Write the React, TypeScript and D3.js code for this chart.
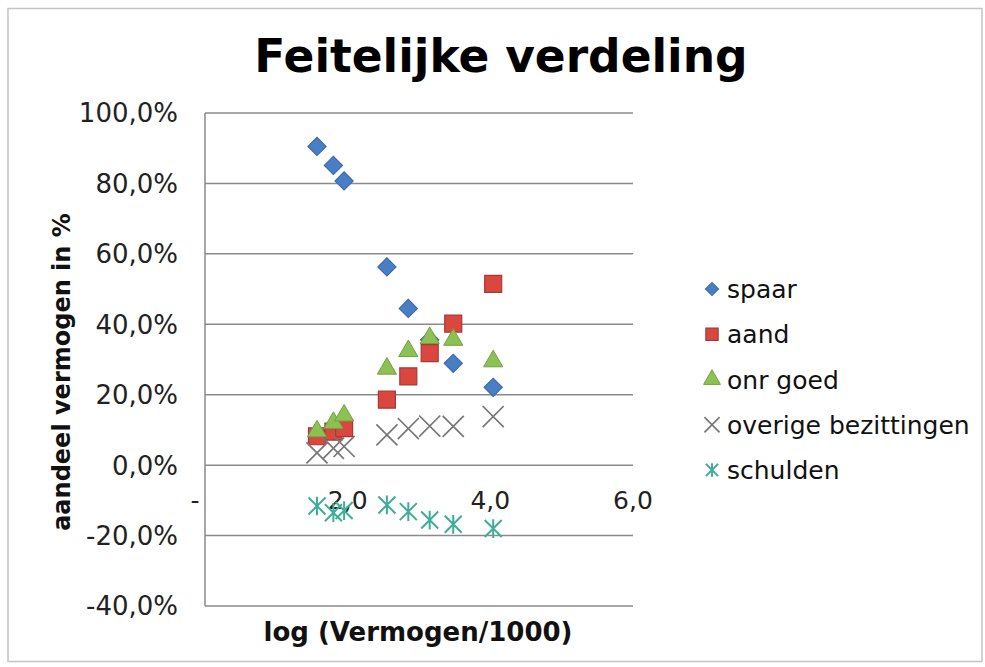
import React from "react";
import * as d3 from "d3";

const xVals = [1.57, 1.8, 1.95, 2.55, 2.85, 3.15, 3.48, 4.04];
const spaar = [90.5, 85.1, 80.7, 56.3, 44.5, 35.6, 28.9, 22.1];
const aand = [8.2, 9.5, 10.5, 18.6, 25.2, 31.8, 40.2, 51.5];
const onrGoed = [9.6, 12.0, 14.1, 27.4, 32.4, 36.1, 35.6, 29.5];
const overige = [3.5, 4.8, 5.3, 8.6, 10.4, 11.1, 11.0, 13.8];
const schulden = [-11.6, -13.5, -12.9, -11.3, -13.2, -15.6, -16.8, -18.0];

const yTicks = [100, 80, 60, 40, 20, 0, -20, -40];
const xTicks = [0, 2, 4, 6];
const seriesNames = ["spaar", "aand", "onr goed", "overige bezittingen", "schulden"];

const W = 985;
const H = 667;

const x = d3.scaleLinear().domain([0, 6]).range([205, 633]);
const y = d3.scaleLinear().domain([-40, 100]).range([606, 113]);

type Kind = "diamond" | "square" | "triangle" | "x" | "star";

function Marker({ kind, cx, cy, s }: { kind: Kind; cx: number; cy: number; s: number }) {
  if (kind === "diamond") {
    const p = d3.symbol(d3.symbolSquare, s * s)();
    return <path d={p || ""} transform={`translate(${cx},${cy}) rotate(45)`} fill="#4A7EC4" stroke="#3767AB" strokeWidth={1} />;
  }
  if (kind === "square") {
    const p = d3.symbol(d3.symbolSquare, s * s)();
    return <path d={p || ""} transform={`translate(${cx},${cy})`} fill="#D9473F" stroke="#A43A35" strokeWidth={1.2} />;
  }
  if (kind === "triangle") {
    const p = d3.symbol(d3.symbolTriangle, s * s * 0.55)();
    return <path d={p || ""} transform={`translate(${cx},${cy})`} fill="#8DC153" stroke="#74A044" strokeWidth={1} />;
  }
  if (kind === "x") {
    const p = d3.symbol(d3.symbolX, s * s * 0.9)();
    return <path d={p || ""} transform={`translate(${cx},${cy})`} fill="none" stroke="#777" strokeWidth={1.7} />;
  }
  const r = s / 2;
  const pth = d3.path();
  pth.moveTo(-r, -r);
  pth.lineTo(r, r);
  pth.moveTo(-r, r);
  pth.lineTo(r, -r);
  pth.moveTo(0, -r * 1.1);
  pth.lineTo(0, r * 1.1);
  return <path d={pth.toString()} transform={`translate(${cx},${cy})`} fill="none" stroke="#3FAE98" strokeWidth={2} />;
}

const series: { name: string; values: number[]; kind: Kind; size: number }[] = [
  { name: seriesNames[0], values: spaar, kind: "diamond", size: 13 },
  { name: seriesNames[1], values: aand, kind: "square", size: 17 },
  { name: seriesNames[2], values: onrGoed, kind: "triangle", size: 17 },
  { name: seriesNames[3], values: overige, kind: "x", size: 18 },
  { name: seriesNames[4], values: schulden, kind: "star", size: 17 },
];

const fmtY = (v: number) => `${v.toFixed(1).replace(".", ",")}%`;
const fmtX = (v: number) => (v === 0 ? "-" : v.toFixed(1).replace(".", ","));

export default function App() {
  const font = "DejaVu Sans, Verdana, sans-serif";
  const legendY = d3.scaleLinear().domain([0, 4]).range([289, 470]);
  return (
    <svg width={W} height={H} style={{ position: "absolute", left: 0, top: 0, background: "#fff" }} fontFamily={font}>
      <rect x={0} y={0} width={W} height={H} fill="#fff" />
      <rect x={8} y={8.5} width={974} height={653} fill="#fff" stroke="#c4c4c4" strokeWidth={1.5} />
      <text x={501} y={72} textAnchor="middle" fontSize={45.5} fontWeight="bold" fill="#000">
        Feitelijke verdeling
      </text>
      {yTicks.map((t) => (
        <g key={t}>
          <line x1={x(0)} x2={x(6)} y1={y(t)} y2={y(t)} stroke="#8a8a8a" strokeWidth={1.5} />
          <text x={178} y={y(t)} dy="0.36em" textAnchor="end" fontSize={26} fill="#222">
            {fmtY(t)}
          </text>
        </g>
      ))}
      <line x1={x(0)} x2={x(0)} y1={y(100)} y2={y(-40)} stroke="#8a8a8a" strokeWidth={1.5} />
      {xTicks.map((t) => (
        <text key={t} x={t === 0 ? x(0) - 10 : x(t)} y={509} textAnchor="middle" fontSize={25} fill="#222">
          {fmtX(t)}
        </text>
      ))}
      <text
        transform={`translate(70,372) rotate(-90)`}
        textAnchor="middle"
        fontSize={24}
        fontWeight="bold"
        fill="#111"
      >
        aandeel vermogen in %
      </text>
      <text x={418} y={641} textAnchor="middle" fontSize={26} fontWeight="bold" fill="#111">
        log (Vermogen/1000)
      </text>
      {series.map((s) => (
        <g key={s.name}>
          {s.values.map((v, i) => (
            <Marker key={i} kind={s.kind} cx={x(xVals[i])} cy={y(v)} s={s.size} />
          ))}
        </g>
      ))}
      {series.map((s, i) => (
        <g key={s.name}>
          <Marker kind={s.kind} cx={712} cy={legendY(i)} s={s.kind === "triangle" ? 15 : s.size * 0.72} />
          <text x={727} y={legendY(i)} dy="0.36em" fontSize={25} fill="#111">
            {s.name}
          </text>
        </g>
      ))}
    </svg>
  );
}
